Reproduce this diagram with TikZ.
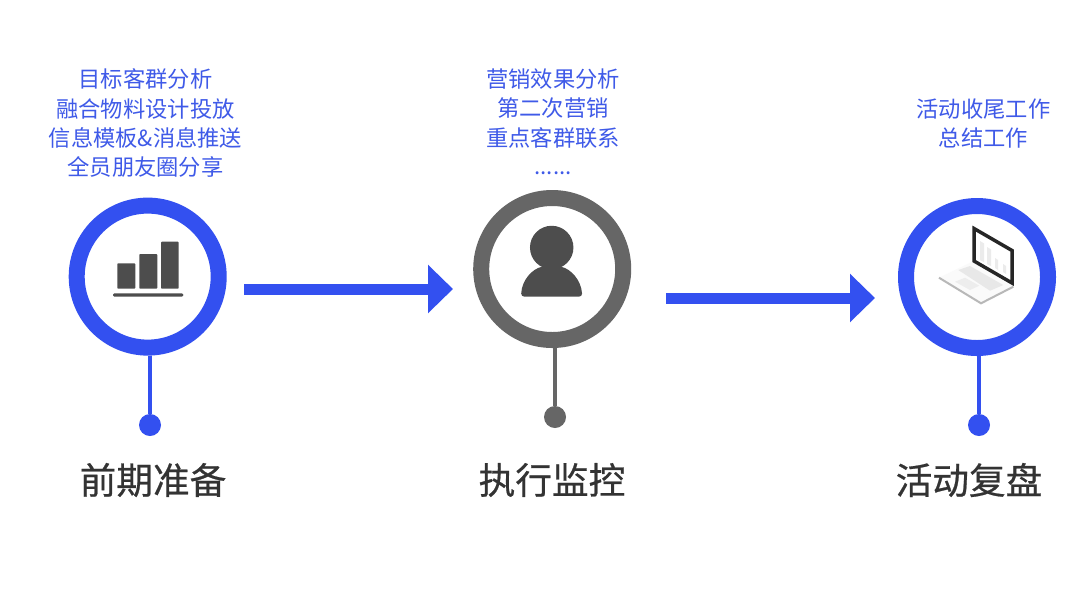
\documentclass[tikz,border=0pt]{standalone}
\usepackage{fontspec}
\setmainfont{Noto Sans CJK SC}
\newfontfamily\titlefont[FakeBold=0.6]{Noto Sans CJK SC}
\usetikzlibrary{arrows.meta}
\definecolor{brand}{HTML}{3350F0}
\definecolor{brandtext}{HTML}{3F5AE8}
\definecolor{ringgrey}{HTML}{666666}
\definecolor{icon}{HTML}{4D4D4D}
\definecolor{titlec}{HTML}{333333}
\tikzset{
  ring/.style={circle,draw=#1,line width=12pt,minimum size=106.5pt,inner sep=0pt,fill=white},
  dotnode/.style={circle,fill=#1,minimum size=16.5pt,inner sep=0pt,outer sep=0pt},
  stem/.style={draw=#1,line width=2.35pt},
  flow/.style={draw=brand,line width=8.25pt,-{Triangle[length=18.75pt,width=35.25pt]}},
  listing/.style={text=brandtext,font=\fontsize{16.7pt}{22pt}\selectfont,align=center,inner sep=0pt,anchor=north},
  heading/.style={text=titlec,font=\titlefont\fontsize{27.5pt}{33pt}\selectfont,inner sep=0pt}
}
\begin{document}
\begin{tikzpicture}[x=0.75pt,y=-0.75pt]
\useasboundingbox (0,0) rectangle (1080,608);
\fill[white] (0,0) rectangle (1080,608);
% lists
\node[listing] (t1) at (145.5,68.5) {目标客群分析\\融合物料设计投放\\信息模板\&消息推送\\全员朋友圈分享};
\node[listing] (t2) at (553,68.5) {营销效果分析\\第二次营销\\重点客群联系\\\raisebox{0.8pt}{......}};
\node[listing] (t3) at (983.5,98.5) {活动收尾工作\\总结工作};
% rings
\node[ring=brand] (c1) at (147.7,276.6) {};
\node[ring=ringgrey] (c2) at (552.2,269) {};
\node[ring=brand] (c3) at (977,277) {};
% dots
\node[dotnode=brand] (d1) at (150,425) {};
\node[dotnode=ringgrey] (d2) at (555,417) {};
\node[dotnode=brand] (d3) at (979,425) {};
\draw[stem=brand] (d1 |- c1.south) -- (d1);
\draw[stem=ringgrey] (d2 |- c2.south) -- (d2);
\draw[stem=brand] (d3 |- c3.south) -- (d3);
% arrows
\coordinate (a1s) at (244,289); \coordinate (a1e) at (453,289);
\coordinate (a2s) at (666,298); \coordinate (a2e) at (875,298);
\draw[flow] (a1s) -- (a1e);
\draw[flow] (a2s) -- (a2e);
% titles
\node[heading] (h1) at (153,480) {前期准备};
\node[heading] (h2) at (552,480) {执行监控};
\node[heading] (h3) at (969,480) {活动复盘};
% chart icon
\fill[icon,rounded corners=0.6pt] (117.3,263.3) rectangle (135.3,288.7);
\fill[icon,rounded corners=0.6pt] (139.3,254) rectangle (157.3,288.7);
\fill[icon,rounded corners=0.6pt] (161,241.7) rectangle (178.7,288.7);
\fill[icon,rounded corners=1pt] (113,293.3) rectangle (183.3,296.7);
% person icon
\fill[icon] (551.7,247.5) circle[radius=16.3pt];
\fill[icon,rounded corners=2.5pt] (521,296.7) .. controls (522,280) and (532,269) .. (545,266) -- (558,266) .. controls (571,269) and (581,280) .. (582.3,296.7) -- cycle;
% laptop icon
\fill[black!2] (939,277.7) -- (972.3,261.7) -- (1013.3,286.7) -- (981,303.3) -- cycle;
\draw[black!28,line width=1.5pt] (939,277.7) -- (981,303.3) -- (1013.3,286.7);
\fill[black!9] (958.3,270) -- (970,266) -- (1003.3,285) -- (990,290.7) -- cycle;
\fill[black!7] (955,281.7) -- (965,277.7) -- (979.3,285.7) -- (970,290) -- cycle;
\filldraw[fill=white,draw=black!85,line width=2.6pt,line join=miter] (974,228.5) -- (1012,250.5) -- (1012,283) -- (974,261) -- cycle;
\fill[black!8] (980,241) -- (984,243.5) -- (984,262) -- (980,260) -- cycle;
\fill[black!8] (987,247) -- (991,249.5) -- (991,266) -- (987,264) -- cycle;
\fill[black!8] (995,258) -- (998,260) -- (998,270) -- (995,268) -- cycle;
\fill[black!8] (1003,264) -- (1006,266) -- (1006,274) -- (1003,272) -- cycle;
\end{tikzpicture}
\end{document}
